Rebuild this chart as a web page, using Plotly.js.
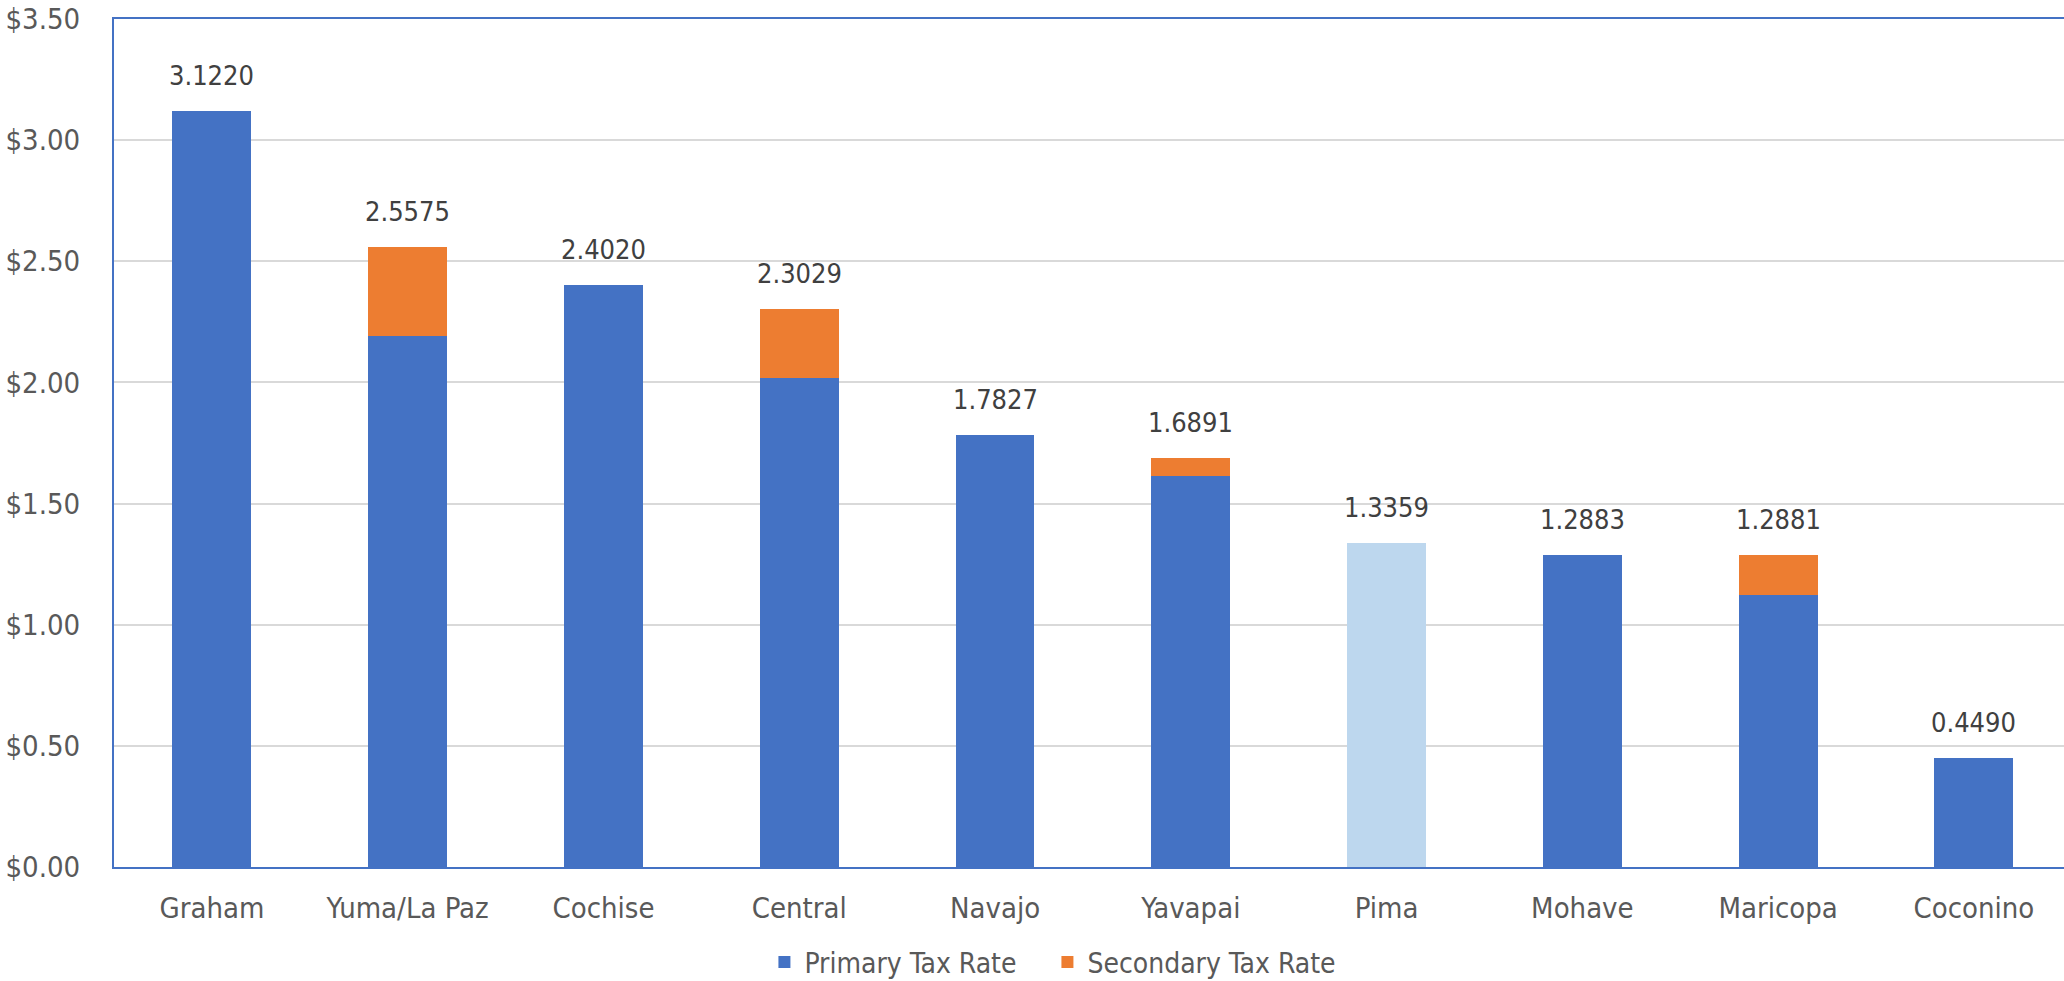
<!DOCTYPE html>
<html>
<head>
<meta charset="utf-8">
<script src="https://cdn.plot.ly/plotly-3.0.1.min.js"></script>
<style>html,body{margin:0;padding:0;background:#fff;}#chart{width:2064px;height:981px;}</style>
</head>
<body>
<div id="chart"></div>
<script>
const categories = ["Graham", "Yuma/La Paz", "Cochise", "Central", "Navajo", "Yavapai", "Pima", "Mohave", "Maricopa", "Coconino"];
const primaryRate = [3.1220, 2.1930, 2.4020, 2.0190, 1.7827, 1.6120, 1.3359, 1.2883, 1.1240, 0.4490];
const secondaryRate = [0, 0.3645, 0, 0.2839, 0, 0.0771, 0, 0, 0.1641, 0];
const totalLabels = ["3.1220", "2.5575", "2.4020", "2.3029", "1.7827", "1.6891", "1.3359", "1.2883", "1.2881", "0.4490"];
const totalValues = [3.1220, 2.5575, 2.4020, 2.3029, 1.7827, 1.6891, 1.3359, 1.2883, 1.2881, 0.4490];
const yTicks = [0, 0.5, 1.0, 1.5, 2.0, 2.5, 3.0, 3.5];
const yTickLabels = ["$0.00", "$0.50", "$1.00", "$1.50", "$2.00", "$2.50", "$3.00", "$3.50"];

const BLUE = "#4472C4", LIGHT = "#BDD7EE", ORANGE = "#ED7D31";
const FONT = "'DejaVu Sans Condensed', 'DejaVu Sans', sans-serif";

const primaryColors = categories.map(c => c === "Pima" ? LIGHT : BLUE);

const traces = [
  {type: "bar", name: "Primary Tax Rate", x: categories, y: primaryRate, legendwidth: 238,
   marker: {color: primaryColors, line: {width: 0}}, hoverinfo: "x+y"},
  {type: "bar", name: "Secondary Tax Rate", x: categories, y: secondaryRate,
   marker: {color: ORANGE, line: {width: 0}}, hoverinfo: "x+y"}
];

const annotations = categories.map((c, i) => ({
  x: c, y: totalValues[i], xref: "x", yref: "y",
  text: totalLabels[i], showarrow: false, yanchor: "bottom", yshift: 18,
  font: {family: FONT, size: 27, color: "#404040"}
}));

const layout = {
  width: 2064, height: 981,
  margin: {l: 114, r: 0, t: 19, b: 114},
  paper_bgcolor: "#fff", plot_bgcolor: "#fff",
  barmode: "stack", bargap: 0.597,
  font: {family: FONT, size: 28, color: "#595959"},
  showlegend: true,
  legend: {orientation: "h", x: 0.4815, xanchor: "center",
           yref: "container", y: 0.019, yanchor: "middle",
           itemwidth: 30,
           font: {family: FONT, size: 28, color: "#595959"}, traceorder: "normal"},
  xaxis: {type: "category", range: [-0.5, 9.46], showline: true, linecolor: BLUE, linewidth: 2,
          mirror: true, showgrid: false, ticks: "", ticklabelstandoff: 14,
          tickfont: {family: FONT, size: 29, color: "#595959"}},
  yaxis: {range: [0, 3.5], tickmode: "array", tickvals: yTicks, ticktext: yTickLabels,
          showline: true, linecolor: BLUE, linewidth: 2, mirror: false,
          showgrid: true, gridcolor: "#D9D9D9", gridwidth: 2, zeroline: false,
          ticks: "", ticklabelstandoff: 26,
          tickfont: {family: FONT, size: 29, color: "#595959"}},
  annotations: annotations
};

Plotly.newPlot("chart", traces, layout, {displayModeBar: false, staticPlot: true});
</script>
</body>
</html>
